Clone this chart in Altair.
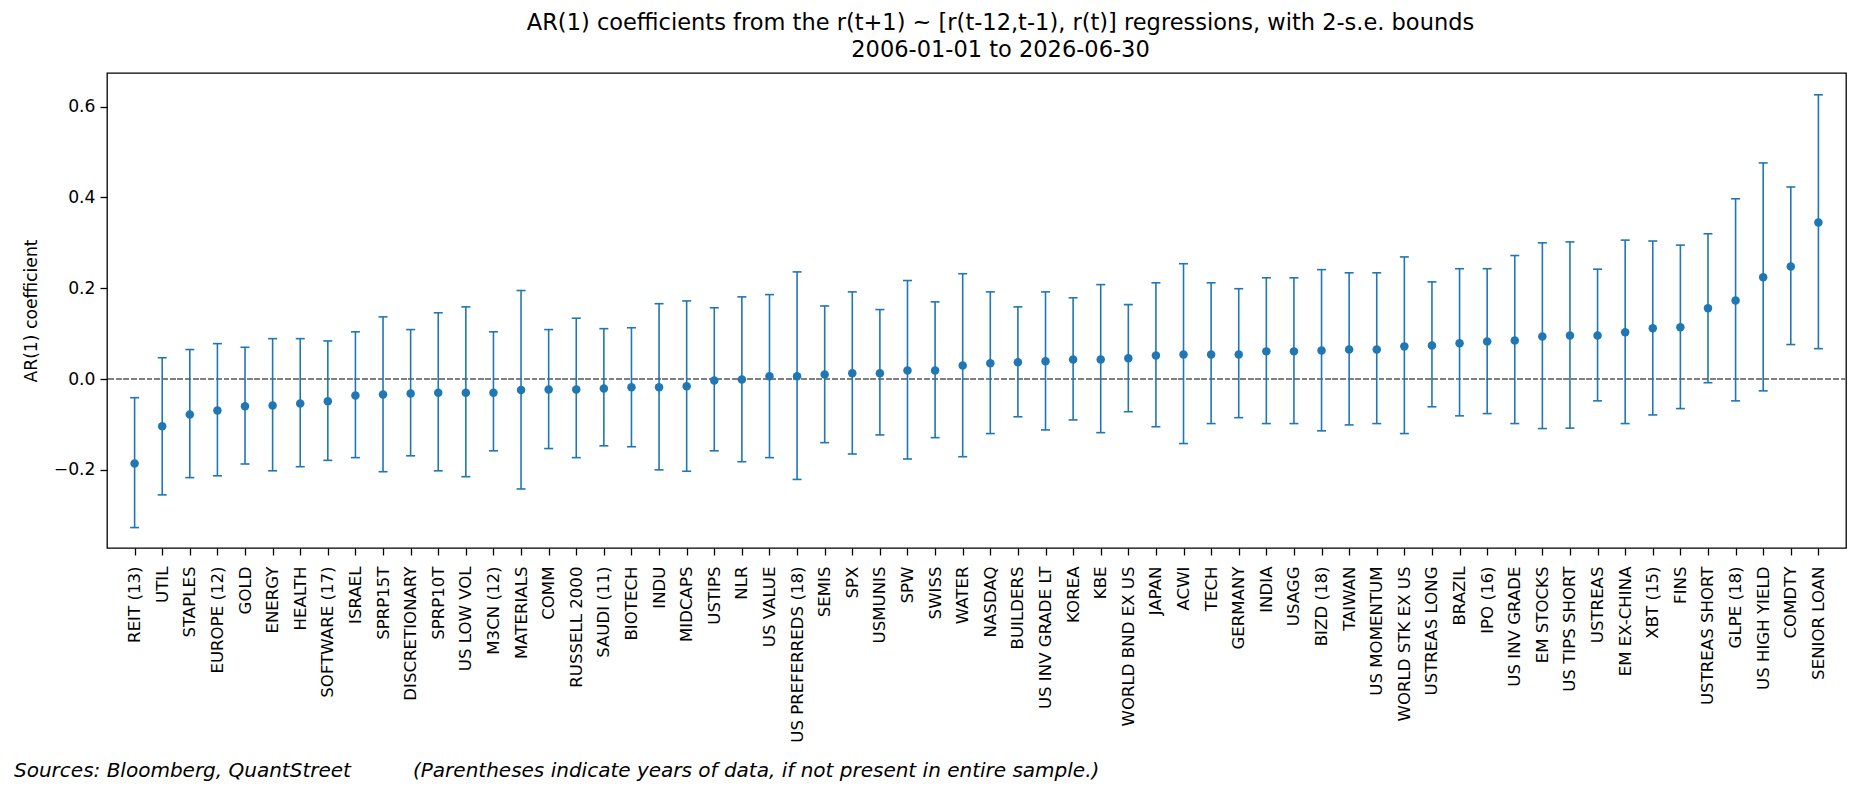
import altair as alt
import pandas as pd

names = ["REIT (13)", "UTIL", "STAPLES", "EUROPE (12)", "GOLD", "ENERGY", "HEALTH",
         "SOFTWARE (17)", "ISRAEL", "SPRP15T", "DISCRETIONARY", "SPRP10T", "US LOW VOL",
         "M3CN (12)", "MATERIALS", "COMM", "RUSSELL 2000", "SAUDI (11)", "BIOTECH", "INDU",
         "MIDCAPS", "USTIPS", "NLR", "US VALUE", "US PREFERREDS (18)", "SEMIS", "SPX",
         "USMUNIS", "SPW", "SWISS", "WATER", "NASDAQ", "BUILDERS", "US INV GRADE LT",
         "KOREA", "KBE", "WORLD BND EX US", "JAPAN", "ACWI", "TECH", "GERMANY", "INDIA",
         "USAGG", "BIZD (18)", "TAIWAN", "US MOMENTUM", "WORLD STK EX US", "USTREAS LONG",
         "BRAZIL", "IPO (16)", "US INV GRADE", "EM STOCKS", "US TIPS SHORT", "USTREAS",
         "EM EX-CHINA", "XBT (15)", "FINS", "USTREAS SHORT", "GLPE (18)", "US HIGH YIELD",
         "COMDTY", "SENIOR LOAN"]

coef = [-0.186, -0.104, -0.078, -0.069, -0.060, -0.058, -0.054, -0.049, -0.036, -0.034,
        -0.032, -0.030, -0.030, -0.030, -0.024, -0.023, -0.023, -0.021, -0.018, -0.018,
        -0.016, -0.003, -0.001, 0.006, 0.006, 0.010, 0.013, 0.013, 0.019, 0.019,
        0.030, 0.035, 0.037, 0.039, 0.043, 0.043, 0.046, 0.052, 0.054, 0.054,
        0.054, 0.061, 0.061, 0.063, 0.065, 0.065, 0.072, 0.074, 0.079, 0.083,
        0.085, 0.094, 0.096, 0.096, 0.103, 0.112, 0.114, 0.156, 0.173, 0.224,
        0.248, 0.345]

upper = [-0.041, 0.047, 0.065, 0.078, 0.070, 0.089, 0.089, 0.084, 0.104, 0.137,
         0.109, 0.146, 0.159, 0.104, 0.195, 0.109, 0.134, 0.111, 0.113, 0.166,
         0.172, 0.157, 0.181, 0.186, 0.236, 0.161, 0.192, 0.153, 0.217, 0.170,
         0.232, 0.192, 0.159, 0.192, 0.179, 0.208, 0.164, 0.212, 0.254, 0.212,
         0.199, 0.223, 0.223, 0.241, 0.234, 0.234, 0.269, 0.214, 0.243, 0.243,
         0.272, 0.300, 0.302, 0.242, 0.306, 0.304, 0.295, 0.320, 0.397, 0.476,
         0.423, 0.626]

lower = [-0.327, -0.255, -0.217, -0.213, -0.187, -0.202, -0.193, -0.179, -0.173, -0.204,
         -0.169, -0.202, -0.215, -0.158, -0.242, -0.153, -0.173, -0.147, -0.149, -0.200,
         -0.203, -0.158, -0.182, -0.173, -0.221, -0.140, -0.165, -0.123, -0.176, -0.129,
         -0.171, -0.120, -0.083, -0.112, -0.090, -0.118, -0.072, -0.105, -0.142, -0.098,
         -0.085, -0.098, -0.098, -0.114, -0.101, -0.098, -0.120, -0.061, -0.081, -0.076,
         -0.098, -0.109, -0.108, -0.048, -0.098, -0.079, -0.065, -0.008, -0.048, -0.026,
         0.076, 0.067]

y_ticks = [-0.2, 0.0, 0.2, 0.4, 0.6]
title_lines = ["AR(1) coefficients from the r(t+1) ~ [r(t-12,t-1), r(t)] regressions, with 2-s.e. bounds",
               "2006-01-01 to 2026-06-30"]
note_sources = "Sources: Bloomberg, QuantStreet"
note_paren = "(Parentheses indicate years of data, if not present in entire sample.)"

df = pd.DataFrame({"name": names, "coef": coef, "lo": lower, "hi": upper})

W, H = 1739, 475
BLUE = "#1f77b4"
FONT = "DejaVu Sans"

xenc = alt.X("name:N", sort=names,
             scale=alt.Scale(type="point", padding=1.0),
             axis=alt.Axis(title=None, labelAngle=-90, labelFontSize=16.6,
                           labelPadding=11, labelOverlap=False, labelLimit=400,
                           tickSize=7, tickWidth=1.3, tickColor="black",
                           labelColor="black", domain=False, labelFont=FONT))
yscale = alt.Scale(domain=[-0.372, 0.674], nice=False, zero=False)
yaxis = alt.Axis(title="AR(1) coefficient", values=y_ticks, format=".1f",
                 labelFontSize=17.2, titleFontSize=17.2, titleFontWeight="normal",
                 titleColor="black", labelColor="black", tickSize=7, tickWidth=1.3,
                 tickColor="black", labelPadding=5, titlePadding=13, grid=False,
                 domain=False, labelFont=FONT, titleFont=FONT)

base = alt.Chart(df)

zero = base.mark_rule(color="#808080", strokeWidth=1.3, strokeDash=[5, 2.7]).encode(
    y=alt.datum(0, scale=yscale, axis=yaxis)
)

bars = base.mark_rule(color=BLUE, strokeWidth=1.6).encode(
    x=xenc,
    y=alt.Y("lo:Q", scale=yscale, axis=yaxis),
    y2="hi:Q",
)

cap_lo = base.mark_tick(color=BLUE, thickness=1.6, size=9, opacity=1).encode(
    x=xenc, y=alt.Y("lo:Q", scale=yscale)
)
cap_hi = base.mark_tick(color=BLUE, thickness=1.6, size=9, opacity=1).encode(
    x=xenc, y=alt.Y("hi:Q", scale=yscale)
)

pts = base.mark_point(filled=True, color=BLUE, size=72, opacity=1).encode(
    x=xenc, y=alt.Y("coef:Q", scale=yscale)
)

note1 = alt.Chart(pd.DataFrame({"t": [note_sources]})).mark_text(
    align="left", baseline="middle", fontSize=20, fontStyle="italic",
    font=FONT, color="black").encode(
    text="t:N", x=alt.value(-93), y=alt.value(H + 223))
note2 = alt.Chart(pd.DataFrame({"t": [note_paren]})).mark_text(
    align="left", baseline="middle", fontSize=20, fontStyle="italic",
    font=FONT, color="black").encode(
    text="t:N", x=alt.value(306), y=alt.value(H + 223))

chart = alt.layer(zero, bars, cap_lo, cap_hi, pts, note1, note2).properties(
    width=W, height=H,
    background="white",
    title=alt.TitleParams(text=title_lines, fontSize=22.5, font=FONT,
                          fontWeight="normal", color="black", anchor="middle",
                          frame="group", offset=12, lineHeight=27, dx=24),
    autosize=alt.AutoSizeParams(type="none"),
    padding={"left": 99, "top": 65, "right": 4, "bottom": 235},
).configure_view(stroke="black", strokeWidth=1.3)

chart.save("out.html", embed_options={"renderer": "svg", "actions": False})
